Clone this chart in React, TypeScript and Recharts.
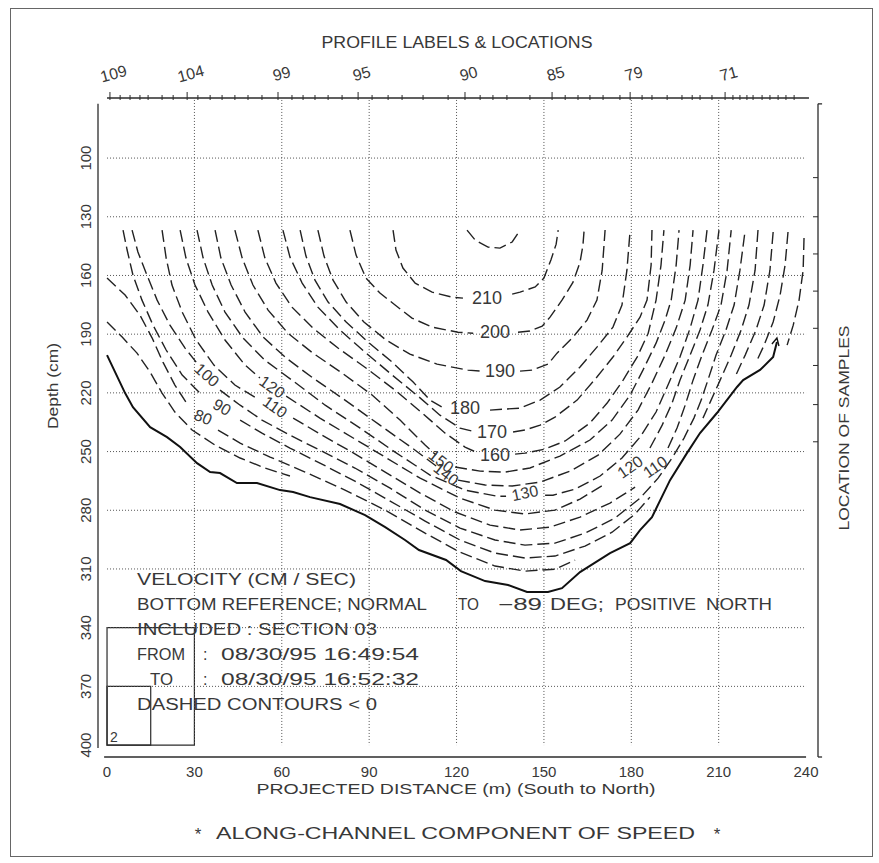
import React from 'react';
import {
  ComposedChart,
  Line,
  XAxis,
  YAxis,
  ReferenceLine,
  ReferenceArea,
  ReferenceDot,
} from 'recharts';

type Pt = [number, number] | null;

const FONT = "'Liberation Sans', 'DejaVu Sans', Arial, sans-serif";
const INK = '#2b2b2b';
const GRID = '#555';

// distance (m) and depth (cm) ranges, incl. the offset axis frame
const X_DOMAIN: [number, number] = [-3.1, 244.1];
const Y_DOMAIN: [number, number] = [69.3, 406.1];

const distanceTicks = [0, 30, 60, 90, 120, 150, 180, 210, 240];
const depthTicks = [100, 130, 160, 190, 220, 250, 280, 310, 340, 370, 400];
const gridDistances = [30, 60, 90, 120, 150, 180, 210];
const gridDepths = [100, 130, 160, 190, 220, 250, 280, 310, 340, 370];

// profile stations along the top axis (m)
const profileStations = [
  1.0, 4.5, 7.9, 11.3, 14.1, 18.9, 22.7, 27.5, 31.2, 35.4, 39.5, 43.9, 48.4, 53.2,
  58.7, 63.5, 67.3, 71.4, 75.9, 80.7, 86.2, 91.0, 96.5, 101.3, 108.5, 117.1, 122.9,
  128.1, 132.5, 137.3, 145.2, 152.8, 157.3, 161.7, 165.8, 170.3, 176.1, 179.6, 183.7,
  187.1, 192.3, 197.4, 200.9, 203.6, 207.7, 212.2, 214.9, 217.3, 219.7, 221.8, 224.9,
  227.6, 230.4, 233.1, 235.9,
];
const profileNamedAt = [1.0, 27.5, 58.7, 86.2, 122.9, 152.8, 179.6, 212.2];
const profileNames = ['109', '104', '99', '95', '90', '85', '79', '71'];

// sample bins on the right axis (cm)
const sampleDepths = [110, 130, 149, 168, 187, 206, 226, 245];

// channel bed [distance m, depth cm]
const bedProfile: Pt[] = [
  [0, 200.7], [6.2, 220.1], [8.9, 227.3], [14.8, 237.5], [20.6, 242.6], [25.1, 247.7],
  [30.9, 255.9], [35.4, 260.5], [38.8, 261.0], [44.6, 266.1], [51.5, 266.1], [59.4, 269.7],
  [63.9, 270.7], [69.7, 273.3], [80.0, 276.8], [88.6, 282.5], [95.5, 288.6], [102.3, 295.2],
  [107.1, 300.3], [116.4, 305.4], [121.5, 311.1], [129.8, 316.2], [137.7, 318.2],
  [144.2, 321.8], [151.4, 321.8], [156.2, 319.8], [162.4, 311.6], [172.7, 301.9],
  [179.6, 296.8], [183.0, 290.1], [187.1, 283.5], [193.3, 264.6], [199.1, 250.8],
  [203.6, 240.5], [209.4, 230.3], [216.3, 217.0], [218.4, 213.5], [224.2, 208.3],
  [228.7, 201.7], [230.0, 194.0],
];

// contours of speed (cm/s); null = gap where the value is written
const c220: Pt[] = [[123.6, 136.8], [126.4, 141.9], [130.8, 145.5], [134.9, 146.0], [139.1, 142.9], [141.8, 136.8]];
const c210: Pt[] = [
  [98.2, 136.8], [99.2, 147.0], [101.6, 156.2], [105.8, 163.9], [111.6, 168.5], [118.5, 171.1], [122.2, 171.6], null,
  [139.1, 169.5], [141.8, 168.5], [147.0, 165.9], [150.0, 161.3], [152.4, 152.1], [154.2, 144.0], [154.9, 136.8],
];
const c200: Pt[] = [
  [83.4, 136.8], [85.5, 149.6], [88.9, 161.3], [93.7, 169.0], [98.9, 175.1], [104.7, 181.8], [111.6, 186.4], [120.5, 189.0], [125.7, 189.5], null,
  [141.1, 189.0], [145.2, 188.4], [149.4, 185.9], [152.1, 181.3], [156.2, 172.6], [160.0, 163.4], [162.4, 153.2], [163.4, 144.5], [163.8, 136.8],
];
const c190: Pt[] = [
  [72.4, 136.8], [74.5, 150.1], [77.6, 162.4], [82.1, 173.6], [88.2, 183.8], [95.8, 193.0], [104.0, 200.2], [113.3, 205.3], [123.9, 208.4], [128.4, 208.9], null,
  [141.8, 208.9], [145.9, 208.4], [151.4, 205.3], [154.5, 199.7], [160.0, 191.5], [164.8, 182.8], [168.2, 172.6], [170.0, 157.3], [171.0, 136.8],
];
const c180: Pt[] = [
  [66.3, 136.8], [68.3, 150.1], [71.4, 162.4], [75.9, 173.6], [82.1, 183.8], [89.6, 194.0], [97.9, 204.3], [105.1, 214.5], [110.9, 223.7], [115.0, 227.3], null,
  [131.5, 228.8], [141.8, 227.8], [148.7, 223.7], [155.5, 217.0], [162.4, 206.8], [168.2, 196.6], [173.7, 186.4], [176.8, 175.1], [178.5, 157.3], [179.6, 136.8],
];
const c170: Pt[] = [
  [60.4, 136.8], [62.8, 150.6], [67.0, 163.9], [72.4, 176.2], [80.0, 187.9], [88.6, 199.2], [97.9, 210.9], [106.8, 221.7], [114.3, 231.4], [121.2, 238.0], [125.3, 239.5], null,
  [139.4, 240.0], [143.5, 239.0], [148.7, 236.5], [153.8, 232.4], [161.4, 223.7], [168.2, 211.9], [173.7, 201.7], [178.5, 191.5], [183.0, 181.3], [185.4, 172.6], [186.8, 154.7], [187.1, 136.8],
];
const c160: Pt[] = [
  [51.8, 136.8], [54.2, 151.1], [58.0, 163.9], [63.5, 176.2], [70.7, 186.9], [79.3, 197.1], [88.9, 207.3], [98.9, 218.6], [108.2, 230.3], [116.1, 240.6], [122.9, 247.7], [126.7, 250.3], null,
  [140.1, 251.3], [143.5, 250.8], [150.4, 248.7], [157.3, 244.6], [165.8, 235.4], [171.7, 225.2], [177.2, 213.5], [182.0, 201.7], [185.8, 189.5], [188.5, 172.6], [190.2, 154.7], [191.2, 136.8],
];
const c150: Pt[] = [
  [43.9, 136.8], [46.4, 151.1], [50.1, 164.9], [55.3, 177.7], [62.1, 189.5], [70.7, 199.7], [80.7, 209.9], [91.0, 221.1], [100.6, 233.9], [109.2, 246.7], [113.0, 251.8], null,
  [119.5, 257.9], [128.1, 260.0], [136.7, 260.5], [145.2, 258.4], [155.5, 252.3], [165.8, 244.1], [173.4, 233.9], [179.6, 221.1], [184.0, 208.4], [188.5, 194.6], [191.6, 182.8], [193.7, 172.6], [195.4, 154.7], [196.4, 136.8],
];
const c140: Pt[] = [
  [37.1, 136.8], [39.1, 151.1], [42.6, 164.9], [47.4, 178.7], [53.6, 191.5], [61.5, 202.2], [70.7, 212.4], [81.7, 223.7], [93.7, 236.5], [105.8, 249.3], [113.0, 257.4], null,
  [120.5, 264.6], [129.8, 267.1], [139.1, 267.6], [148.7, 265.6], [159.0, 260.0], [168.6, 251.8], [176.1, 241.1], [182.3, 228.8], [187.1, 215.0], [191.6, 200.7], [195.4, 186.9], [198.5, 172.6], [200.2, 154.7], [201.2, 136.8],
];
const c130: Pt[] = [
  [30.9, 136.8], [33.0, 151.1], [36.1, 164.9], [40.5, 178.7], [46.7, 192.0], [54.2, 203.3], [63.5, 213.5], [74.9, 226.3], [86.9, 238.0], [98.9, 250.3], [110.9, 262.0], [122.9, 269.7], [133.9, 272.8], [137.0, 272.8], null,
  [150.4, 272.3], [153.1, 272.3], [160.7, 269.2], [169.3, 262.5], [176.8, 253.3], [183.0, 242.6], [188.5, 229.8], [192.6, 216.0], [196.7, 201.7], [200.2, 186.9], [202.9, 172.6], [204.6, 154.7], [206.0, 136.8],
];
const c120: Pt[] = [
  [25.1, 136.8], [27.1, 151.1], [30.2, 164.9], [34.7, 178.7], [40.5, 193.0], [47.4, 205.8], [52.5, 212.4], null,
  [61.5, 221.7], [73.1, 232.9], [90.3, 248.2], [107.5, 263.6], [121.2, 273.8], [133.2, 279.9], [143.5, 281.9], [153.8, 279.9], [162.4, 274.3], [170.3, 267.1], null,
  [186.4, 248.2], [190.6, 236.5], [194.0, 225.2], [196.7, 213.5], [200.2, 200.7], [203.6, 187.9], [206.3, 175.1], [208.4, 157.3], [210.1, 136.8],
];
const c110: Pt[] = [
  [18.9, 136.8], [20.3, 151.1], [22.3, 164.9], [25.8, 178.7], [30.6, 193.0], [36.7, 205.8], [43.9, 216.0], [51.8, 223.2], null,
  [63.9, 232.9], [73.8, 241.6], [84.1, 250.3], [95.5, 260.5], [107.5, 271.2], [119.5, 280.9], [131.5, 287.6], [141.8, 290.1], [152.1, 288.6], [162.4, 283.5], [172.7, 276.3], [181.3, 268.2], null,
  [192.6, 248.2], [195.7, 238.0], [198.5, 226.3], [201.2, 213.5], [204.3, 200.7], [207.7, 187.9], [210.8, 175.1], [212.9, 157.3], [214.3, 136.8],
];
const c100: Pt[] = [
  [8.6, 136.8], [10.6, 148.0], [13.7, 159.8], [17.2, 172.6], [21.6, 185.4], [26.8, 197.1], [30.6, 204.3], null,
  [38.8, 218.6], [45.7, 226.3], [53.2, 233.9], [62.8, 241.6], [73.1, 249.3], [85.1, 258.4], [97.2, 268.7], [109.2, 279.9], [121.2, 289.1], [133.2, 295.2], [143.5, 297.8], [153.8, 296.8],
  [164.1, 291.7], [174.4, 284.0], [183.0, 273.8], [189.2, 263.6], [194.0, 253.3], [198.1, 243.1], [201.5, 232.9], [204.0, 223.7], [206.3, 213.5], [209.1, 200.7], [212.5, 187.9], [215.3, 175.1], [217.3, 157.3], [219.1, 136.8],
];
const c90a: Pt[] = [
  [5.5, 136.8], [6.9, 147.0], [8.9, 159.8], [12.0, 172.6], [15.8, 185.4], [20.3, 198.1], [25.8, 210.9], [31.9, 220.1], null,
  [45.7, 233.9], [53.2, 240.6], [62.8, 248.2], [73.1, 255.9], [85.1, 265.1], [97.2, 275.3], [109.2, 285.5], [121.2, 295.2], [133.2, 301.9], [143.5, 304.4], [153.8, 303.4], [164.1, 298.3], [173.4, 291.2], [181.3, 281.9], [186.4, 273.3],
];
const c90b: Pt[] = [[223.5, 136.8], [222.5, 157.3], [220.4, 175.1], [217.7, 187.9], [214.3, 200.7], [210.5, 213.5], [207.4, 223.7], [204.6, 232.9]];
const c80a: Pt[] = [
  [0, 161.3], [6.2, 170.0], [11.3, 180.3], [15.5, 192.0], [19.2, 204.3], [23.3, 216.0], [27.8, 226.3], null,
  [38.1, 239.0], [45.7, 245.7], [56.0, 252.8], [68.0, 260.5], [81.7, 269.7], [95.5, 279.9], [109.2, 291.7], [121.2, 301.4], [133.2, 308.5], [143.5, 311.1], [153.8, 310.1], [160.7, 305.5],
];
const c80b: Pt[] = [[228.7, 137.8], [227.6, 157.3], [225.6, 175.1], [222.8, 187.9], [219.1, 200.7], [215.6, 211.9]];
const c70a: Pt[] = [[0, 183.8], [5.2, 191.5], [10.3, 199.7], [14.8, 209.4], [18.9, 220.1], [23.3, 229.8], [29.2, 239.0], [37.1, 246.7], [45.7, 253.3], [54.2, 258.4], [62.8, 262.5]];
const c70b: Pt[] = [[233.8, 137.8], [232.8, 154.7], [231.1, 170.0], [228.7, 183.8], [225.6, 195.6], [223.2, 203.3]];
const c60: Pt[] = [[239.3, 140.9], [239.0, 157.3], [237.6, 172.6], [235.6, 185.4], [233.5, 195.6]];

const contours = [c220, c210, c200, c190, c180, c170, c160, c150, c140, c130, c120, c110, c100, c90a, c90b, c80a, c80b, c70a, c70b, c60];

// contour values as written on the plot
const labelText = ['210', '200', '190', '180', '170', '160', '150', '140', '130', '120', '110', '100', '120', '110', '90', '80'];
const labelAt: [number, number][] = [
  [130.5, 171.6], [133.2, 189.0], [134.9, 208.9], [122.9, 227.8], [132.2, 240.0], [133.2, 251.8],
  [114.7, 254.9], [116.4, 261.5], [143.5, 271.2], [179.6, 257.9], [188.2, 257.9],
  [34.3, 210.9], [56.7, 217.0], [57.7, 227.3], [39.5, 227.3], [33.0, 232.4],
];
const labelAngle = [0, 0, 0, 0, 0, 0, 38, 38, -12, -35, -35, 42, 35, 35, 30, 22];

const toRows = (pts: Pt[]) => {
  const rows: { x: number; d: number | null }[] = [];
  pts.forEach((p) => {
    if (p) rows.push({ x: p[0], d: p[1] });
    else rows.push({ x: rows[rows.length - 1].x, d: null });
  });
  return rows;
};

const textStyle = { fontFamily: FONT, fill: '#383838' };

const BottomTick = (p: any) => (
  <text x={p.x} y={777} textAnchor="middle" fontSize={15} {...textStyle}>
    {p.payload.value}
  </text>
);

const TopTick = (p: any) => {
  const k = profileNamedAt.indexOf(p.payload.value);
  const tx = p.x + 5;
  return (
    <g>
      <line x1={p.x} x2={p.x} y1={k >= 0 ? 92 : 95} y2={100} stroke={INK} strokeWidth={1} />
      {k >= 0 && (
        <text x={tx} y={79} transform={`rotate(-15 ${tx} 79)`} textAnchor="middle" fontSize={16} {...textStyle}>
          {profileNames[k]}
        </text>
      )}
    </g>
  );
};

const LeftTick = (p: any) => (
  <text x={86} y={p.y} transform={`rotate(-90 86 ${p.y})`} textAnchor="middle" dominantBaseline="central" fontSize={15} {...textStyle}>
    {p.payload.value}
  </text>
);

const RightTick = (p: any) => <line x1={818} x2={813} y1={p.y} y2={p.y} stroke={INK} strokeWidth={1} />;

// small arrow head at the north end of the bed line
const BedArrow = (p: any) => (
  <path d={`M ${p.cx - 5} ${p.cy + 2} L ${p.cx} ${p.cy - 4} L ${p.cx + 2} ${p.cy + 4}`} fill="none" stroke="#111" strokeWidth={1.4} />
);

const ax = { xAxisId: 'b', yAxisId: 'l' } as const;

export default function App() {
  return (
    <div style={{ position: 'absolute', left: 0, top: 0, width: 879, height: 863, background: '#fff' }}>
      <ComposedChart width={879} height={863} margin={{ top: 38, right: 11, bottom: 46, left: 38 }}>
        <XAxis xAxisId="b" type="number" dataKey="x" domain={X_DOMAIN} allowDataOverflow ticks={distanceTicks}
          interval={0} axisLine={false} tickLine={false} tick={<BottomTick />} height={60} />
        <XAxis xAxisId="t" orientation="top" type="number" dataKey="x" domain={X_DOMAIN} allowDataOverflow
          ticks={profileStations} interval={0} axisLine={false} tickLine={false} tick={<TopTick />} height={60} />
        <YAxis yAxisId="l" type="number" dataKey="d" domain={Y_DOMAIN} reversed allowDataOverflow ticks={depthTicks}
          interval={0} axisLine={false} tickLine={false} tick={<LeftTick />} width={60} />
        <YAxis yAxisId="r" orientation="right" type="number" dataKey="d" domain={Y_DOMAIN} reversed allowDataOverflow
          ticks={sampleDepths} interval={0} axisLine={false} tickLine={false} tick={<RightTick />} width={50} />

        {gridDistances.map((g) => (
          <ReferenceLine key={'gx' + g} {...ax} segment={[{ x: g, y: 70.3 }, { x: g, y: 400 }]}
            stroke={GRID} strokeWidth={1} strokeDasharray="1 2" ifOverflow="visible" />
        ))}
        {gridDepths.map((g) => (
          <ReferenceLine key={'gy' + g} {...ax} segment={[{ x: 0, y: g }, { x: 240, y: g }]}
            stroke={GRID} strokeWidth={1} strokeDasharray="1 2" ifOverflow="visible" />
        ))}

        {/* offset axis frame */}
        <ReferenceLine {...ax} segment={[{ x: -1, y: 406.1 }, { x: 240, y: 406.1 }]} stroke={INK} strokeWidth={1.3} ifOverflow="visible" />
        <ReferenceLine {...ax} segment={[{ x: 0, y: 69.3 }, { x: 241, y: 69.3 }]} stroke={INK} strokeWidth={1.3} ifOverflow="visible" />
        <ReferenceLine {...ax} segment={[{ x: -3.1, y: 72.3 }, { x: -3.1, y: 401.5 }]} stroke={INK} strokeWidth={1.3} ifOverflow="visible" />
        <ReferenceLine {...ax} segment={[{ x: 244.1, y: 72.3 }, { x: 244.1, y: 406.1 }]} stroke={INK} strokeWidth={1.3} ifOverflow="visible" />
        <ReferenceLine {...ax} segment={[{ x: 244.1, y: 72.3 }, { x: 245.5, y: 72.3 }]} stroke={INK} strokeWidth={1.3} ifOverflow="visible" />
        <ReferenceLine {...ax} segment={[{ x: 244.1, y: 406.1 }, { x: 245.5, y: 406.1 }]} stroke={INK} strokeWidth={1.3} ifOverflow="visible" />

        <ReferenceArea {...ax} x1={0} x2={30} y1={340} y2={400} fill="none" stroke={INK} strokeWidth={1.2} ifOverflow="visible" />
        <ReferenceArea {...ax} x1={0} x2={15} y1={370} y2={400} fill="none" stroke={INK} strokeWidth={1.2} ifOverflow="visible" />

        {contours.map((c, i) => (
          <Line key={'c' + i} {...ax} data={toRows(c)} dataKey="d" type="linear" dot={false} activeDot={false}
            stroke="#222" strokeWidth={1.4} strokeDasharray="12 5" connectNulls={false} isAnimationActive={false} />
        ))}

        <Line {...ax} data={toRows(bedProfile)} dataKey="d" type="linear" dot={false} activeDot={false}
          stroke="#111" strokeWidth={2} isAnimationActive={false} />
        <ReferenceDot {...ax} x={230.0} y={194.0} ifOverflow="visible" shape={BedArrow} />

        {labelText.map((t, i) => {
          const big = labelAngle[i] === 0;
          return (
            <ReferenceDot key={'lb' + i} {...ax} x={labelAt[i][0]} y={labelAt[i][1]} ifOverflow="visible"
              shape={(p: any) => (
                <text x={p.cx} y={p.cy} transform={`rotate(${labelAngle[i]} ${p.cx} ${p.cy})`} textAnchor="middle"
                  dominantBaseline="central" fontSize={big ? 18 : 16} {...textStyle}>
                  {t}
                </text>
              )} />
          );
        })}
      </ComposedChart>

      <svg width={879} height={863} style={{ position: 'absolute', left: 0, top: 0, pointerEvents: 'none' }}>
        <rect x={10.5} y={8.5} width={862} height={848} fill="none" stroke="#666" strokeWidth={1} />
        <g {...textStyle}>
          <text x={457} y={48} textAnchor="middle" fontSize={16} textLength={271} lengthAdjust="spacingAndGlyphs">PROFILE LABELS &amp; LOCATIONS</text>
          <text x={52} y={386} transform="rotate(-90 52 386)" textAnchor="middle" dominantBaseline="central" fontSize={15} textLength={86} lengthAdjust="spacingAndGlyphs">Depth (cm)</text>
          <text x={843} y={428} transform="rotate(-90 843 428)" textAnchor="middle" dominantBaseline="central" fontSize={15} textLength={205} lengthAdjust="spacingAndGlyphs">LOCATION OF SAMPLES</text>
          <text x={456} y={794} textAnchor="middle" fontSize={15} textLength={399} lengthAdjust="spacingAndGlyphs">PROJECTED DISTANCE (m) (South to North)</text>
          <text x={198} y={840} textAnchor="middle" fontSize={17}>*</text>
          <text x={216} y={839} fontSize={17} textLength={479} lengthAdjust="spacingAndGlyphs">ALONG-CHANNEL COMPONENT OF SPEED</text>
          <text x={717} y={840} textAnchor="middle" fontSize={17}>*</text>

          <text x={137} y={585} fontSize={16} textLength={219} lengthAdjust="spacingAndGlyphs">VELOCITY (CM / SEC)</text>
          <text x={137} y={610} fontSize={16} textLength={290} lengthAdjust="spacingAndGlyphs">BOTTOM REFERENCE; NORMAL</text>
          <text x={458} y={610} fontSize={16} textLength={21} lengthAdjust="spacingAndGlyphs">TO</text>
          <text x={498} y={610} fontSize={16} textLength={44} lengthAdjust="spacingAndGlyphs">−89</text>
          <text x={550} y={610} fontSize={16} textLength={54} lengthAdjust="spacingAndGlyphs">DEG;</text>
          <text x={615} y={610} fontSize={16} textLength={81} lengthAdjust="spacingAndGlyphs">POSITIVE</text>
          <text x={706} y={610} fontSize={16} textLength={66} lengthAdjust="spacingAndGlyphs">NORTH</text>
          <text x={137} y={635} fontSize={16} textLength={240} lengthAdjust="spacingAndGlyphs">INCLUDED : SECTION 03</text>
          <text x={137} y={660} fontSize={16} textLength={48} lengthAdjust="spacingAndGlyphs">FROM</text>
          <text x={203} y={660} fontSize={16}>:</text>
          <text x={221} y={660} fontSize={16} textLength={198} lengthAdjust="spacingAndGlyphs">08/30/95 16:49:54</text>
          <text x={150} y={685} fontSize={16} textLength={23} lengthAdjust="spacingAndGlyphs">TO</text>
          <text x={203} y={685} fontSize={16}>:</text>
          <text x={221} y={685} fontSize={16} textLength={198} lengthAdjust="spacingAndGlyphs">08/30/95 16:52:32</text>
          <text x={137} y={710} fontSize={16} textLength={240} lengthAdjust="spacingAndGlyphs">DASHED CONTOURS &lt; 0</text>
          <text x={110} y={742} fontSize={14}>2</text>
        </g>
      </svg>
    </div>
  );
}
